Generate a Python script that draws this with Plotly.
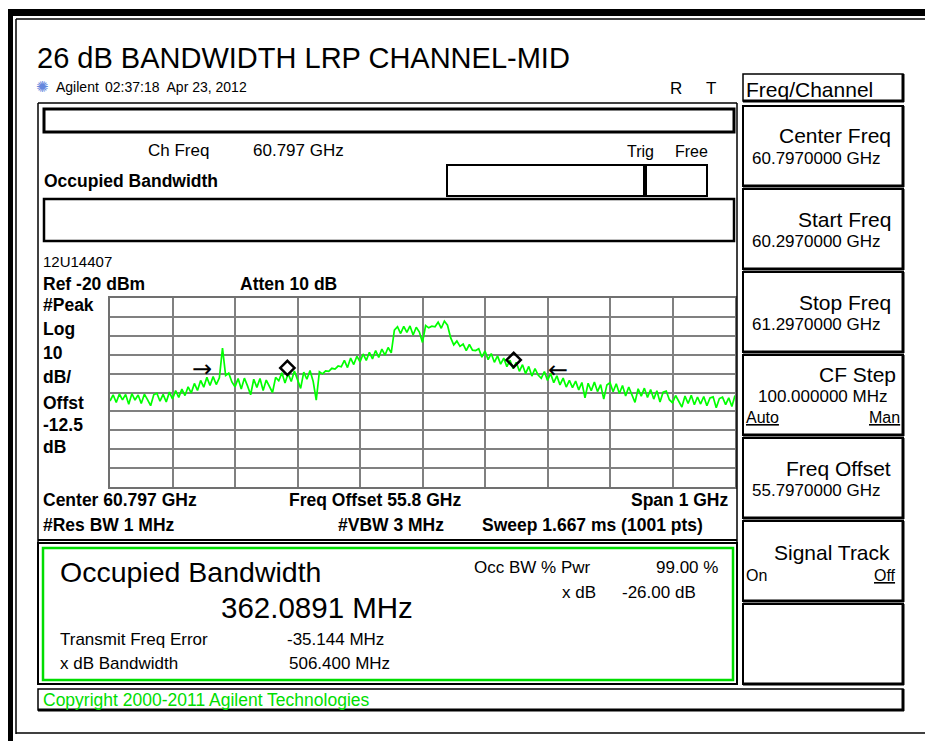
import plotly.graph_objects as go

W, H = 925, 741

# ---------------- data ----------------
start_ghz = 60.297
stop_ghz = 61.297
ref_level = -20
db_per_div = 10

# trace, 201 points across the 1 GHz span, dBm
trace_dbm = [
    -74.5, -71.2, -75.3, -70.8, -73.9, -71.0, -76.2, -70.6, -74.0, -71.3,
    -75.8, -70.9, -73.8, -77.0, -71.2, -70.4, -74.6, -71.0, -75.0, -69.8,
    -73.4, -69.0, -72.6, -68.2, -71.6, -67.0, -70.3, -65.2, -68.9, -63.6,
    -67.2, -62.0, -66.3, -61.6, -65.8, -62.2, -46.5, -61.0, -59.8, -64.4,
    -67.0, -62.6, -68.2, -62.4, -66.5, -71.2, -63.0, -67.3, -62.6, -69.0,
    -63.4, -67.2, -70.0, -62.0, -63.8, -59.6, -65.0, -60.0, -64.2, -58.6,
    -63.5, -67.8, -59.2, -63.0, -58.4, -64.0, -74.0, -59.0, -60.2, -58.6,
    -58.8, -57.2, -57.6, -56.0, -56.4, -53.0, -56.8, -51.8, -55.2, -50.8,
    -53.8, -49.6, -53.0, -48.8, -52.2, -47.8, -51.4, -47.0, -50.2, -46.2,
    -49.0, -37.0, -35.2, -38.8, -35.0, -38.2, -34.8, -39.6, -35.5, -38.0,
    -43.5, -34.6, -35.8, -34.9, -35.2, -32.8, -36.0, -32.2, -34.4, -41.0,
    -44.8, -42.8, -45.6, -44.4, -47.8, -44.6, -47.6, -47.8, -46.8, -51.3,
    -48.0, -52.6, -49.4, -54.0, -50.6, -55.0, -51.8, -56.3, -52.9, -57.4,
    -54.0, -58.8, -55.3, -60.0, -56.2, -61.3, -57.4, -60.8, -62.5, -58.9,
    -63.6, -60.0, -64.8, -61.2, -66.0, -62.4, -67.1, -63.6, -67.4, -64.0,
    -68.6, -64.7, -72.8, -65.1, -69.1, -64.5, -69.5, -65.8, -73.5, -66.0,
    -64.8, -69.6, -65.4, -70.5, -66.3, -71.8, -67.1, -71.0, -75.2, -68.0,
    -71.9, -67.7, -72.6, -68.4, -73.5, -69.1, -75.0, -69.8, -69.2, -73.8,
    -75.4, -71.6, -75.1, -77.7, -71.9, -75.8, -71.5, -76.5, -72.4, -76.1,
    -72.1, -77.0, -72.9, -72.3, -78.1, -73.2, -72.5, -76.4, -72.8, -77.4,
    -71.6,
]
step_ghz = (stop_ghz - start_ghz) / (len(trace_dbm) - 1)
freq_ghz = [start_ghz + i * step_ghz for i in range(len(trace_dbm))]

# OBW edge markers (diamonds) and x-dB edge arrows
obw_marker_ghz = [60.5808, 60.9429]
obw_marker_dbm = [-57.0, -52.8]
xdb_arrow_ghz = [60.4442, 61.0138]
xdb_arrow_dbm = [-58.6, -59.2]
xdb_arrow_text = ["\u2192", "\u2190"]

softkeys = [
    ("Center Freq", "60.7970000 GHz"),
    ("Start Freq", "60.2970000 GHz"),
    ("Stop Freq", "61.2970000 GHz"),
    ("CF Step", "100.000000 MHz"),
    ("Freq Offset", "55.7970000 GHz"),
    ("Signal Track", ""),
    ("", ""),
]

# ---------------- helpers ----------------
FONT = "Liberation Sans, Arial, sans-serif"


def X(px):
    return px / W


def Y(py):
    return 1 - py / H


shapes = []
annotations = []


def rect(x0, y0, x1, y1, color="black", width=1, fill=None):
    shapes.append(dict(type="rect", xref="paper", yref="paper",
                       x0=X(x0), x1=X(x1), y0=Y(y1), y1=Y(y0),
                       line=dict(color=color, width=width),
                       fillcolor=fill if fill else "rgba(0,0,0,0)", layer="above"))


def line(x0, y0, x1, y1, color="black", width=1):
    shapes.append(dict(type="line", xref="paper", yref="paper",
                       x0=X(x0), x1=X(x1), y0=Y(y0), y1=Y(y1),
                       line=dict(color=color, width=width), layer="above"))


def txt(x, y, s, size=13, bold=False, color="black", anchor="left", family=FONT, underline=False):
    t = s
    if underline:
        t = "<u>" + t + "</u>"
    if bold:
        t = "<b>" + t + "</b>"
    annotations.append(dict(xref="paper", yref="paper", x=X(x), y=Y(y), text=t,
                            showarrow=False, xanchor=anchor, yanchor="middle",
                            font=dict(family=family, size=size, color=color)))


# ---------------- figure ----------------
fig = go.Figure()
fig.add_trace(go.Scatter(x=freq_ghz, y=trace_dbm, mode="lines",
                         line=dict(color="#00FF00", width=1.7), hoverinfo="skip"))
fig.add_trace(go.Scatter(x=obw_marker_ghz, y=obw_marker_dbm, mode="markers",
                         marker=dict(symbol="diamond-open", size=11, color="black",
                                     line=dict(width=2.5, color="black"))))
fig.add_trace(go.Scatter(x=xdb_arrow_ghz, y=xdb_arrow_dbm, mode="text", text=xdb_arrow_text,
                         textfont=dict(size=24, color="black", family="DejaVu Sans")))

# outer frame
rect(8, 9, 940, 16, width=0, fill="black")
rect(8, 9, 13, 760, width=0, fill="black")
line(16, 19, 930, 19, width=1.5)
line(16, 19, 16, 734, width=1.5)
line(16, 733, 930, 733, width=1.5)

# title & header
txt(35, 58, "26 dB BANDWIDTH LRP CHANNEL-MID", size=29)
txt(42, 87, "\u273A", size=15, color="#6688dd", family="DejaVu Sans", anchor="center")
txt(54, 87, "Agilent", size=14)
txt(103, 87, "02:37:18  Apr 23, 2012", size=14)
txt(668, 88, "R", size=17)
txt(704, 88, "T", size=17)

# softkey header
rect(743, 74, 903, 101, width=1.5)
line(903, 74, 903, 102, width=3)
line(743, 101, 904, 101, width=3)
txt(744, 89, "Freq/Channel", size=21)

# softkeys
key_tops = [106, 189, 272, 355, 438, 521, 604]
key_h = 80
for (title, value), y0 in zip(softkeys, key_tops):
    y1 = y0 + key_h
    rect(743, y0, 903, y1, width=2)
    line(903, y0, 903, y1 + 1, width=3)
    line(743, y1, 904, y1, width=3)
    if title == "CF Step":
        txt(898, y0 + 19, title, size=21, anchor="right")
        txt(822, y0 + 42, value, size=17, anchor="center")
        txt(744, y0 + 62, "Auto", size=16, underline=True)
        txt(902, y0 + 62, "Man", size=16, anchor="right", underline=True)
    elif title == "Signal Track":
        txt(892, y0 + 31, title, size=21, anchor="right")
        txt(744, y0 + 54, "On", size=16)
        txt(898, y0 + 54, "Off", size=16, anchor="right", underline=True)
    elif title:
        txt(893, y0 + 30, title, size=21, anchor="right")
        txt(750, y0 + 52, value, size=17)

# screen frame
SL = 38
line(SL, 103, 737, 103, width=1.5)
line(SL, 103, SL, 545, width=1.5)
line(737, 103, 737, 545, width=1.5)
rect(SL + 6, 109, 734, 132, width=3)
txt(146, 150, "Ch Freq", size=17)
txt(251, 150, "60.797 GHz", size=17)
txt(625, 151, "Trig", size=16)
txt(673, 151, "Free", size=16)
txt(SL + 4, 181, "Occupied Bandwidth", size=17.5, bold=True)
rect(447, 165, 707, 196, width=2)
line(645, 165, 645, 196, width=4)
rect(SL + 6, 199, 734, 241, width=2.5)
txt(SL + 3, 261, "12U14407", size=15)
txt(SL + 3, 284, "Ref -20 dBm", size=17.5, bold=True)
txt(238, 284, "Atten 10 dB", size=17.5, bold=True)
for lbl, yy in [("#Peak", 305), ("Log", 329), ("10", 353), ("dB/", 377), ("Offst", 403),
                ("-12.5", 425), ("dB", 447)]:
    txt(SL + 3, yy, lbl, size=17.5, bold=True)
txt(SL + 3, 500, "Center 60.797 GHz", size=17.5, bold=True)
txt(287, 500, "Freq Offset 55.8 GHz", size=17.5, bold=True)
txt(730, 500, "Span 1 GHz", size=17.5, bold=True, anchor="right")
txt(SL + 3, 525, "#Res BW 1 MHz", size=17.5, bold=True)
txt(336, 525, "#VBW 3 MHz", size=17.5, bold=True)
txt(480, 525, "Sweep 1.667 ms (1001 pts)", size=17.5, bold=True)
line(SL, 540, 737, 540, width=2)

# results box
rect(SL, 543, 737, 684, width=2)
rect(SL + 5, 548, 733, 680, color="#00DD00", width=2.5)
txt(58, 572, "Occupied Bandwidth", size=28.5)
txt(219, 607, "362.0891 MHz", size=29.5)
txt(472, 567, "Occ BW % Pwr", size=17)
txt(720, 567, "99.00 %", size=17, anchor="right")
txt(598, 592, "x dB", size=17, anchor="right")
txt(620, 592, "-26.00 dB", size=17)
txt(58, 639, "Transmit Freq Error", size=17)
txt(285, 639, "-35.144 MHz", size=17)
txt(58, 663, "x dB Bandwidth", size=17)
txt(287, 663, "506.400 MHz", size=17)

# copyright bar
rect(SL, 689, 903, 710, width=1.5)
line(903, 689, 903, 711, width=3)
line(SL, 710, 904, 710, width=3)
txt(SL + 3, 700, "Copyright 2000-2011 Agilent Technologies", size=17.5, color="#00DD00")

fig.update_layout(
    width=W, height=H,
    margin=dict(l=0, r=0, t=0, b=0, pad=0),
    paper_bgcolor="white", plot_bgcolor="white",
    showlegend=False,
    shapes=shapes, annotations=annotations,
    xaxis=dict(domain=[X(110), X(735)], range=[start_ghz, stop_ghz],
               tick0=start_ghz, dtick=0.1, showticklabels=False, ticks="",
               showgrid=True, gridcolor="#808080", gridwidth=2, zeroline=False,
               showline=True, mirror=True, linecolor="#707070", linewidth=2),
    yaxis=dict(domain=[Y(487), Y(298)], range=[ref_level - 10 * db_per_div, ref_level],
               tick0=ref_level, dtick=db_per_div, showticklabels=False, ticks="",
               showgrid=True, gridcolor="#808080", gridwidth=2, zeroline=False,
               showline=True, mirror=True, linecolor="#707070", linewidth=2),
)

fig.write_html("out.html", config={"displayModeBar": False},
               post_script="document.body.style.margin='0';document.body.style.overflow='hidden';")
